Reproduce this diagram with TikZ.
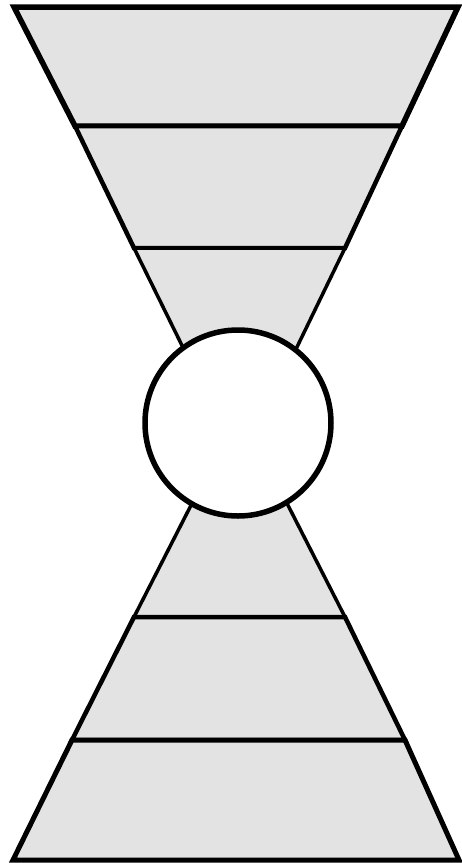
\documentclass[tikz,border=0pt]{standalone}
\definecolor{conegray}{RGB}{227,227,227}
\tikzset{
  band/.style={draw, fill=conegray, line join=miter},
  hole/.style={draw, fill=white, line width=5.5pt}
}
\begin{document}
\begin{tikzpicture}[x=1pt, y=-1pt]
\useasboundingbox (0,0) rectangle (461,863);
% upper cone
\draw[band, line width=5.5pt] (14,7) -- (458,7) -- (402,126) -- (75,126) -- cycle;
\draw[band, line width=4.5pt] (75,126) -- (402,126) -- (345,248) -- (134,248) -- cycle;
\draw[band, line width=3.5pt] (134,248) -- (345,248) -- (281,380) -- (199,380) -- cycle;
% lower cone
\draw[band, line width=3.5pt] (209,470) -- (270,470) -- (345,617) -- (134,617) -- cycle;
\draw[band, line width=4.5pt] (134,617) -- (345,617) -- (405,740) -- (72,740) -- cycle;
\draw[band, line width=5pt] (72,740) -- (405,740) -- (459,860) -- (13,860) -- cycle;
% neck
\node[hole, circle, minimum size=186pt, inner sep=0pt] (neck) at (238,423) {};
\end{tikzpicture}
\end{document}
